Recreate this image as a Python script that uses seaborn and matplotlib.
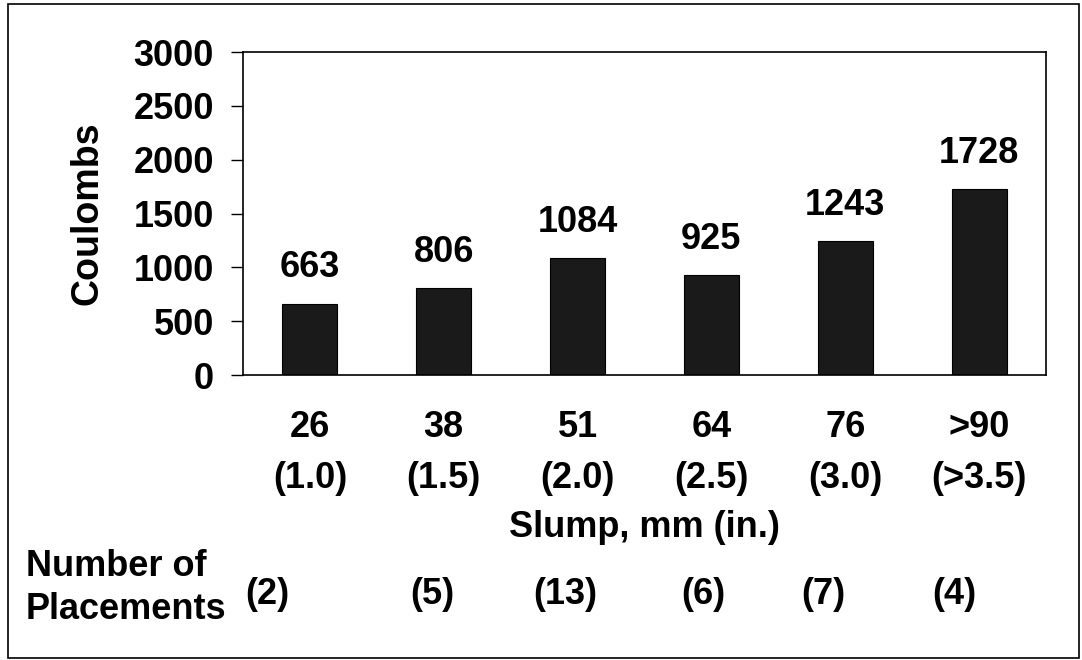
import numpy as np
import pandas as pd
import seaborn as sns
import matplotlib.pyplot as plt
from matplotlib.patches import Rectangle

# values
slump_mm = ["26", "38", "51", "64", "76", ">90"]
slump_in = ["(1.0)", "(1.5)", "(2.0)", "(2.5)", "(3.0)", "(>3.5)"]
coulombs = [663, 806, 1084, 925, 1243, 1728]
placements = [2, 5, 13, 6, 7, 4]
y_ticks = [0, 500, 1000, 1500, 2000, 2500, 3000]

sns.set_theme(style="white")
plt.rcParams['font.family'] = ['Liberation Sans', 'DejaVu Sans']
plt.rcParams['font.weight'] = 'bold'
plt.rcParams['text.color'] = 'black'
plt.rcParams['axes.labelcolor'] = 'black'
plt.rcParams['xtick.color'] = 'black'
plt.rcParams['ytick.color'] = 'black'
FS = 26

df = pd.DataFrame({
    'slump': [m + "\n" + i for m, i in zip(slump_mm, slump_in)],
    'coulombs': coulombs,
})

fig = plt.figure(figsize=(10.82, 6.6), dpi=100)
ax = fig.add_axes([243 / 1082, 1 - 375 / 660, 803 / 1082, 323 / 660])

sns.barplot(data=df, x='slump', y='coulombs', color='#1a1a1a', edgecolor='black',
            linewidth=0.8, width=0.41, saturation=1, ax=ax)

for i, v in enumerate(coulombs):
    ax.annotate(str(v), (i, v), xytext=(0, 19), textcoords='offset points',
                ha='center', va='baseline', fontsize=FS, fontweight='bold')

ax.set_ylim(0, 3000)
ax.set_xlim(-0.5, len(coulombs) - 0.5)
ax.set_yticks(y_ticks)
ax.set_yticklabels([str(t) for t in y_ticks], fontsize=FS, fontweight='bold')
ax.set_xticks(range(len(coulombs)))
ax.set_xticklabels(df['slump'], fontsize=FS, fontweight='bold', linespacing=1.62)
ax.set_xticks(np.arange(-0.5, len(coulombs), 1), minor=True)
ax.tick_params(axis='x', which='major', length=0, pad=25)
ax.tick_params(axis='x', which='minor', length=7, width=1, direction='out')
ax.tick_params(axis='y', length=9, width=1, direction='out', pad=12, left=True)

ax.set_ylabel("Coulombs", fontsize=27, fontweight='bold', labelpad=20)
ax.set_xlabel("Slump, mm (in.)", fontsize=FS, fontweight='bold', labelpad=10)

for s in ax.spines.values():
    s.set_color('black')
    s.set_linewidth(1.2)

# number of placements row
fig.text(26 / 1082, 1 - 588 / 660, "Number of\nPlacements", ha='left', va='center',
         fontsize=FS, fontweight='bold', linespacing=1.3)
place_x = [267, 432, 565, 703, 823, 954]
for px, n in zip(place_x, placements):
    fig.text(px / 1082, 1 - 595 / 660, f"({n})", ha='center', va='center',
             fontsize=FS, fontweight='bold')

fig.add_artist(Rectangle((8 / 1082, 2 / 660), 1071 / 1082, 654 / 660,
                         transform=fig.transFigure, fill=False, lw=1.2, ec='black'))

fig.savefig('out.png', dpi=100)
